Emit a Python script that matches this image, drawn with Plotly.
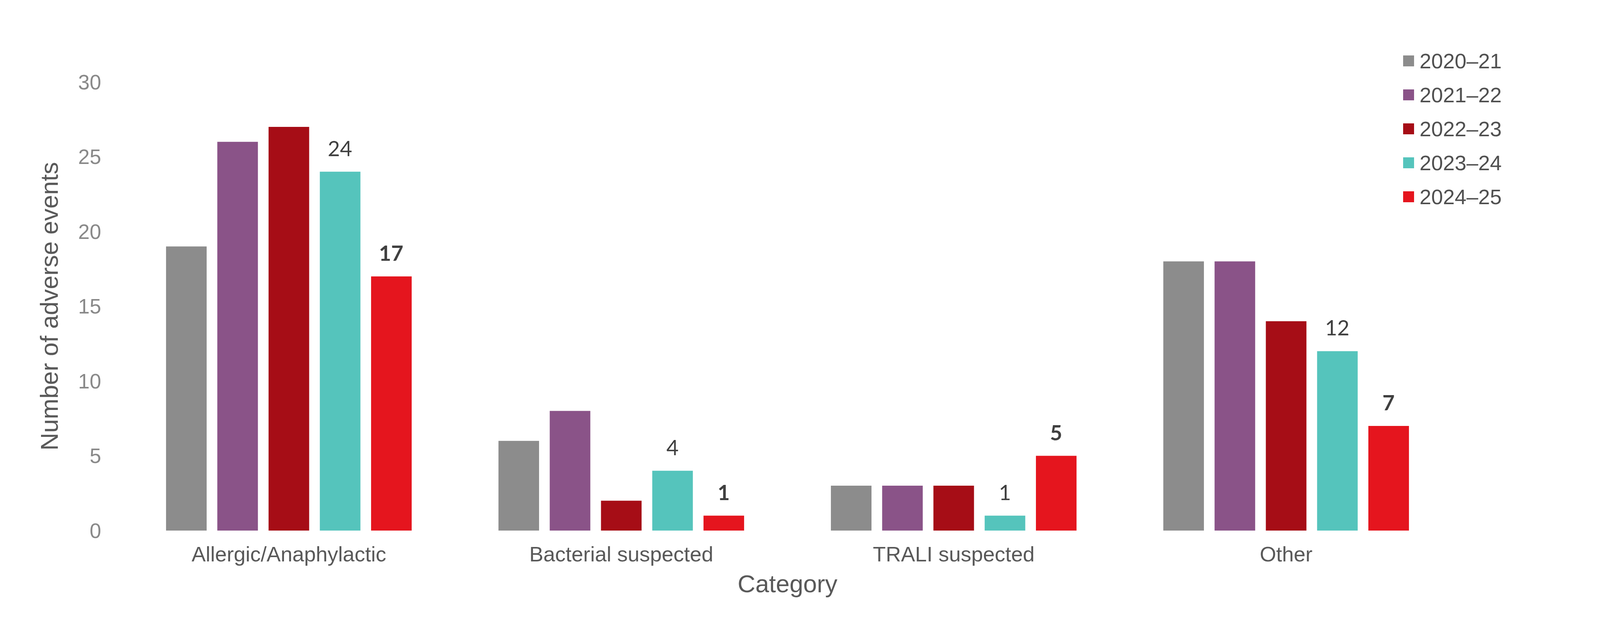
import plotly.graph_objects as go

categories = ["Allergic/Anaphylactic", "Bacterial suspected", "TRALI suspected", "Other"]
series_names = ["2020\u201321", "2021\u201322", "2022\u201323", "2023\u201324", "2024\u201325"]
v_2020_21 = [19, 6, 3, 18]
v_2021_22 = [26, 8, 3, 18]
v_2022_23 = [27, 2, 3, 14]
v_2023_24 = [24, 4, 1, 12]
v_2024_25 = [17, 1, 5, 7]
series_values = [v_2020_21, v_2021_22, v_2022_23, v_2023_24, v_2024_25]
colors = ["#8C8C8C", "#8A5388", "#A60D16", "#55C4BC", "#E5151E"]
labelled = [False, False, False, True, True]
label_bold = [False, False, False, False, True]
y_ticks = [0, 5, 10, 15, 20, 25, 30]

BARGAP = 0.229
BARGROUPGAP = 0.208

fig = go.Figure()
for name, vals, col in zip(series_names, series_values, colors):
    fig.add_trace(go.Bar(name=name, x=categories, y=vals, marker=dict(color=col, line=dict(width=0)),
                         showlegend=False, hoverinfo="x+y+name"))

n = len(series_names)
slot = (1 - BARGAP) / n
annotations = []
for j, (vals, lab, bold) in enumerate(zip(series_values, labelled, label_bold)):
    if not lab:
        continue
    for i, v in enumerate(vals):
        txt = f"<b>{v}</b>" if bold else str(v)
        annotations.append(dict(x=i + (j - (n - 1) / 2) * slot, y=v, xref="x", yref="y",
                                text=txt, showarrow=False, yanchor="bottom", yshift=26,
                                font=dict(family="Lato", size=54, color="#404040")))

# legend built from the series arrays
plot_l, plot_r, plot_t, plot_b = 306, 3710, 202, 1351
pw, ph = plot_r - plot_l, plot_b - plot_t
shapes = []
for k, (name, col) in enumerate(zip(series_names, colors)):
    py = 148 + k * 87
    yp = (plot_b - py) / ph
    xs = (3584 - plot_l) / pw
    shapes.append(dict(type="rect", xref="paper", yref="paper", xsizemode="pixel", ysizemode="pixel",
                       xanchor=xs, yanchor=yp, x0=0, x1=28, y0=-14, y1=14,
                       fillcolor=col, line=dict(width=0)))
    annotations.append(dict(x=(3624 - plot_l) / pw, y=yp, xref="paper", yref="paper", text=name,
                            showarrow=False, xanchor="left", yanchor="middle",
                            font=dict(family="Liberation Sans", size=54, color="#505050")))

fig.update_layout(
    width=4158, height=1606,
    margin=dict(l=plot_l, r=4158 - plot_r, t=plot_t, b=1606 - plot_b),
    paper_bgcolor="white", plot_bgcolor="white",
    barmode="group", bargap=BARGAP, bargroupgap=BARGROUPGAP,
    showlegend=False,
    font=dict(family="Liberation Sans"),
    xaxis=dict(
        title=dict(text="Category", font=dict(family="Liberation Sans", size=63, color="#595959"), standoff=24),
        tickfont=dict(family="Liberation Sans", size=54, color="#595959"),
        showgrid=False, zeroline=False, showline=False, ticks="", ticklabelstandoff=24,
    ),
    yaxis=dict(
        title=dict(text="Number of adverse events", font=dict(family="Liberation Sans", size=63, color="#595959"), standoff=30),
        tickfont=dict(family="Liberation Sans", size=53, color="#898989"),
        range=[0, 30], tickmode="array", tickvals=y_ticks, ticktext=[str(t) for t in y_ticks],
        showgrid=False, zeroline=False, showline=False, ticks="", ticklabelstandoff=54,
    ),
    annotations=annotations,
    shapes=shapes,
)

fig.write_html("out.html")
